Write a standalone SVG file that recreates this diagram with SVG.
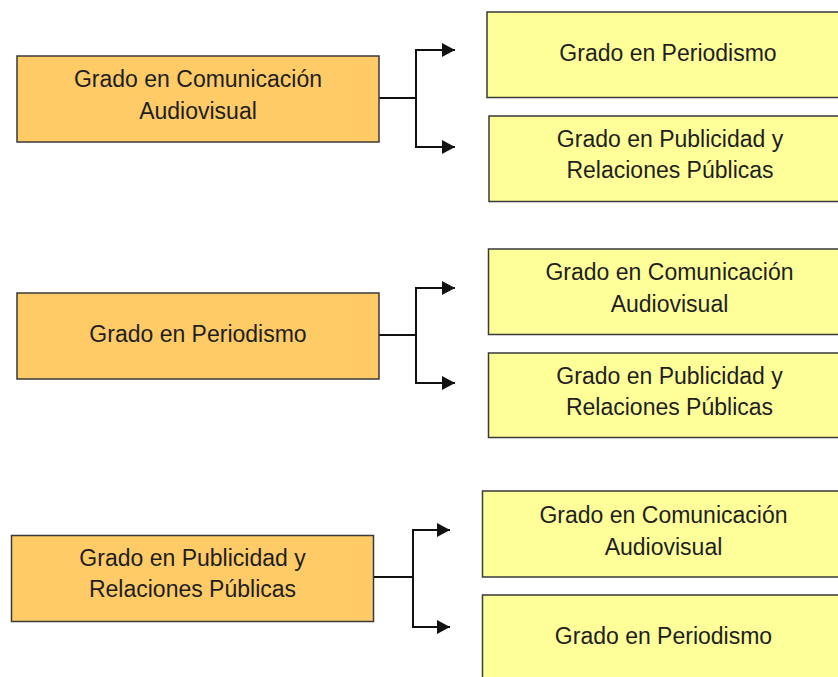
<svg xmlns="http://www.w3.org/2000/svg" width="838" height="677" viewBox="0 0 838 677">
<style>
.src{fill:#FECB66;stroke:#3a3a3a;stroke-width:1.5}
.dst{fill:#FFFF99;stroke:#3a3a3a;stroke-width:1.5}
text{font-family:"Liberation Sans",Arial,sans-serif;font-size:23px;fill:#1e1e1e;text-anchor:middle}
.wire{fill:none;stroke:#111;stroke-width:2}
</style>
<defs>
<marker id="ah" markerUnits="userSpaceOnUse" markerWidth="14" markerHeight="14" refX="13" refY="7" orient="auto">
<path d="M0,0 L13,7 L0,14 Z" fill="#111"/>
</marker>
</defs>
<rect width="838" height="677" fill="#fff"/>
<g id="connectors">
<path class="wire" d="M379,98 H416"/>
<path class="wire" d="M455,50 H416 V147 H455" marker-end="url(#ah)"/>
<path class="wire" d="M416,50 H455" marker-end="url(#ah)"/>
<path class="wire" d="M379,335 H416"/>
<path class="wire" d="M455,288 H416 V383 H455" marker-end="url(#ah)"/>
<path class="wire" d="M416,288 H455" marker-end="url(#ah)"/>
<path class="wire" d="M374,577 H413"/>
<path class="wire" d="M450,530 H413 V627 H450" marker-end="url(#ah)"/>
<path class="wire" d="M413,530 H450" marker-end="url(#ah)"/>
</g>
<g id="src1"><rect class="src" x="17" y="56" width="362" height="86"/><text x="198" y="87">Grado en Comunicación</text><text x="198" y="119">Audiovisual</text></g>
<g id="dst1a"><rect class="dst" x="487" y="12" width="362" height="85.5"/><text x="668" y="61">Grado en Periodismo</text></g>
<g id="dst1b"><rect class="dst" x="489" y="116" width="362" height="85.5"/><text x="670" y="147">Grado en Publicidad y</text><text x="670" y="178">Relaciones Públicas</text></g>
<g id="src2"><rect class="src" x="17" y="293" width="362" height="86"/><text x="198" y="342">Grado en Periodismo</text></g>
<g id="dst2a"><rect class="dst" x="488.5" y="249" width="362" height="85.5"/><text x="669.5" y="280">Grado en Comunicación</text><text x="669.5" y="312">Audiovisual</text></g>
<g id="dst2b"><rect class="dst" x="488.5" y="353" width="362" height="84.5"/><text x="669.5" y="384">Grado en Publicidad y</text><text x="669.5" y="415">Relaciones Públicas</text></g>
<g id="src3"><rect class="src" x="11.5" y="535.5" width="362" height="86"/><text x="192.5" y="566">Grado en Publicidad y</text><text x="192.5" y="597">Relaciones Públicas</text></g>
<g id="dst3a"><rect class="dst" x="482.5" y="491" width="362" height="86"/><text x="663.5" y="523">Grado en Comunicación</text><text x="663.5" y="555">Audiovisual</text></g>
<g id="dst3b"><rect class="dst" x="482.5" y="595" width="362" height="86"/><text x="663.5" y="644">Grado en Periodismo</text></g>
</svg>
